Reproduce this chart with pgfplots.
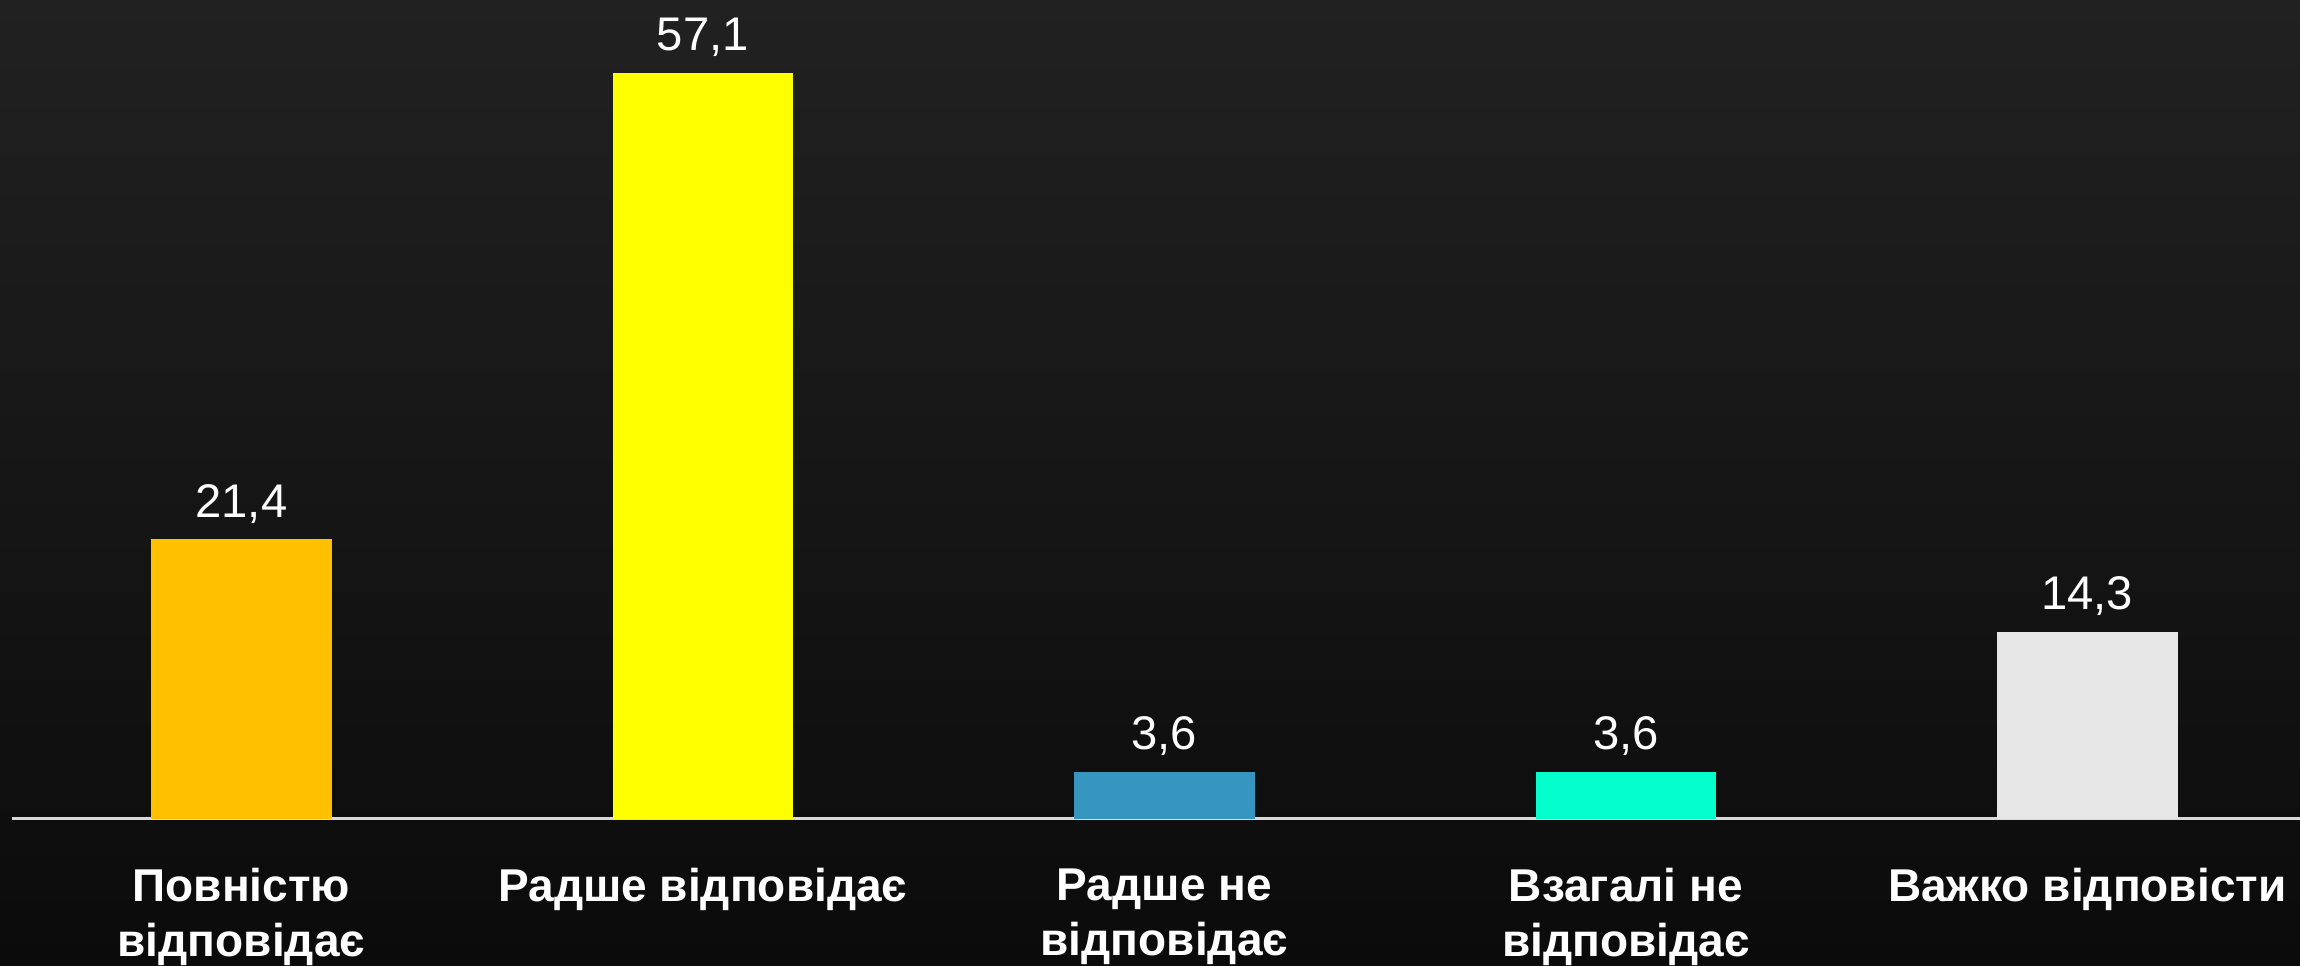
\documentclass[border=0pt]{standalone}
\usepackage{fontspec}
\setmainfont{Liberation Sans}
\usepackage{pgfplots}
\pgfplotsset{compat=1.18}
\definecolor{bgtop}{HTML}{212121}
\definecolor{bgbot}{HTML}{0B0B0B}
\definecolor{c1}{HTML}{FFC000}
\definecolor{c2}{HTML}{FFFF00}
\definecolor{c3}{HTML}{3796BF}
\definecolor{c4}{HTML}{04FFCC}
\definecolor{c5}{HTML}{E6E6E6}
\definecolor{axl}{HTML}{D9D9D9}
\begin{document}
\begin{tikzpicture}
\path[use as bounding box, top color=bgtop, bottom color=bgbot] (0,0) rectangle (575pt,241.25pt);
\begin{axis}[
  at={(3pt,36.625pt)}, anchor=south west,
  scale only axis, width=572pt, height=204.625pt,
  xmin=-0.497, xmax=4.461, ymin=0, ymax=62.69,
  separate axis lines,
  axis x line*=bottom, axis y line=none,
  x axis line style={draw=axl, line width=0.6pt, -},
  xtick={0,1,2,3,4},
  xticklabels={{Повністю\\відповідає},{Радше відповідає},{Радше не\\відповідає},{Взагалі не\\відповідає},{Важко відповісти}},
  major tick length=0pt,
  xticklabel style={align=center, text=white, anchor=north, yshift=-9pt,
    font=\bfseries\fontsize{11.5}{13.75}\selectfont},
  ybar, bar width=45.1pt, bar shift=0pt,
  nodes near coords={\pgfmathprintnumber[fixed, precision=1, fixed zerofill, use comma, assume math mode=true]{\pgfplotspointmeta}},
  every node near coord/.append style={anchor=base, inner sep=0pt, yshift=5.5pt, text=white,
    font=\fontsize{11.8}{14}\selectfont},
]
\addplot[fill=c1, draw=none] coordinates {(0,21.4)};
\addplot[fill=c2, draw=none] coordinates {(1,57.1)};
\addplot[fill=c3, draw=none] coordinates {(2,3.6)};
\addplot[fill=c4, draw=none] coordinates {(3,3.6)};
\addplot[fill=c5, draw=none] coordinates {(4,14.3)};
\end{axis}
\end{tikzpicture}
\end{document}
